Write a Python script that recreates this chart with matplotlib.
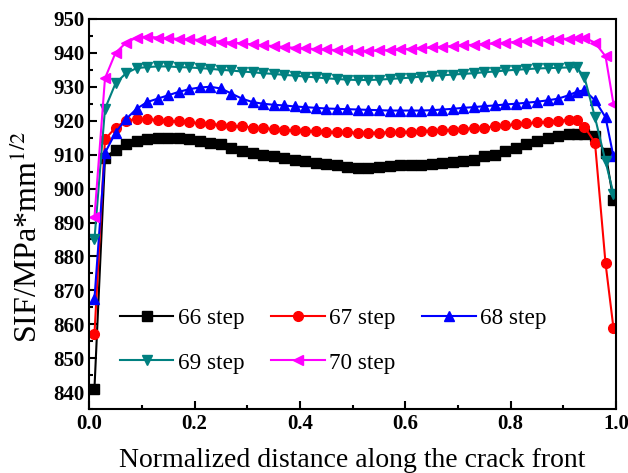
import matplotlib
matplotlib.use("Agg")
import matplotlib.pyplot as plt
from matplotlib.ticker import MultipleLocator

# normalized position along the crack front
x = [0.01, 0.03, 0.05, 0.07, 0.09, 0.11, 0.13, 0.15, 0.17, 0.19,
     0.21, 0.23, 0.25, 0.27, 0.29, 0.31, 0.33, 0.35, 0.37, 0.39,
     0.41, 0.43, 0.45, 0.47, 0.49, 0.51, 0.53, 0.55, 0.57, 0.59,
     0.61, 0.63, 0.65, 0.67, 0.69, 0.71, 0.73, 0.75, 0.77, 0.79,
     0.81, 0.83, 0.85, 0.87, 0.89, 0.91, 0.925, 0.94, 0.96, 0.98, 0.995]

step66 = [841, 909, 911.5, 913, 914, 914.5, 915, 915, 914.8, 914.5,
          914, 913.5, 913, 912, 911, 910.5, 910, 909.5, 909, 908.5,
          908, 907.5, 907.2, 907, 906.5, 906.2, 906.2, 906.5, 906.8, 907,
          907, 907, 907.2, 907.5, 907.8, 908, 908.5, 909.5, 910, 911,
          912, 913, 914, 915, 915.5, 916, 916.2, 916.2, 915.5, 910.5, 896.5]

step67 = [857, 914.5, 918, 920, 920.5, 920.5, 920.2, 920, 919.8, 919.5,
          919.3, 919, 918.8, 918.5, 918.3, 918, 917.8, 917.5, 917.3, 917.2,
          917, 917, 916.8, 916.7, 916.6, 916.5, 916.5, 916.5, 916.6, 916.7,
          916.8, 917, 917.1, 917.2, 917.4, 917.6, 917.8, 918, 918.3, 918.6,
          918.9, 919.2, 919.5, 919.7, 920, 920.2, 920.3, 918.2, 913.5, 878, 859]

step68 = [867.5, 910.5, 916.5, 920.5, 923.5, 925.5, 926.5, 927.5, 928.5, 929.3,
          929.8, 930, 929.5, 928, 926.5, 925.5, 925, 924.7, 924.5, 924.2,
          924, 923.8, 923.6, 923.5, 923.4, 923.3, 923.2, 923.1, 923, 923,
          923, 923, 923.1, 923.3, 923.5, 923.8, 924, 924.3, 924.5, 924.8,
          925, 925.3, 925.6, 926, 926.5, 927.5, 928.5, 929, 926, 921, 909.5]

step69 = [885, 923.5, 931, 934, 935.5, 935.8, 936, 936, 935.8, 935.7,
          935.5, 935.3, 935, 934.8, 934.5, 934.3, 934, 933.8, 933.5, 933.3,
          933, 932.8, 932.5, 932.3, 932.1, 932, 932, 932.1, 932.3, 932.5,
          932.7, 933, 933.2, 933.4, 933.6, 933.8, 934, 934.3, 934.5, 934.8,
          935, 935.2, 935.4, 935.5, 935.6, 935.7, 935.8, 932.8, 921, 908, 898.5]

step70 = [891.5, 932.5, 940, 943, 944.5, 944.8, 944.5, 944.3, 944.1, 944,
          943.8, 943.5, 943.3, 943, 942.8, 942.5, 942.2, 942, 941.7, 941.5,
          941.3, 941.1, 941, 940.8, 940.7, 940.6, 940.6, 940.7, 940.8, 941,
          941.2, 941.4, 941.6, 941.8, 942, 942.2, 942.4, 942.6, 942.8, 943,
          943.2, 943.4, 943.6, 943.8, 944, 944.2, 944.4, 944.5, 943, 939, 925]

series = [
    ("66 step", step66, "black", "s"),
    ("67 step", step67, "red", "o"),
    ("68 step", step68, "blue", "^"),
    ("69 step", step69, "#008080", "v"),
    ("70 step", step70, "magenta", "<"),
]

plt.rcParams["font.family"] = "Liberation Serif"
plt.rcParams["mathtext.fontset"] = "stix"

fig = plt.figure(figsize=(6.28, 4.73), dpi=100)
ax = fig.add_axes([0.142, 0.135, 0.839, 0.825])

lines = []
for label, y, color, marker in series:
    ln, = ax.plot(x, y, color=color, marker=marker, markersize=7, linewidth=1.5, label=label)
    lines.append(ln)

ax.set_xlim(0, 1.0)
ax.set_ylim(835, 950)
ax.xaxis.set_major_locator(MultipleLocator(0.2))
ax.xaxis.set_minor_locator(MultipleLocator(0.1))
ax.yaxis.set_major_locator(MultipleLocator(10))
ax.yaxis.set_minor_locator(MultipleLocator(5))
ax.tick_params(which="both", direction="in", top=False, right=False, width=1.5)
ax.tick_params(which="major", length=6, labelsize=15)
ax.tick_params(which="minor", length=3)
for lab in ax.get_xticklabels() + ax.get_yticklabels():
    lab.set_fontweight("bold")
for sp in ax.spines.values():
    sp.set_linewidth(1.5)

ax.set_xlabel("Normalized distance along the crack front", fontsize=20, labelpad=10)
ax.set_ylabel("SIF/MPa*mm$^{1/2}$", fontsize=23)
ax.yaxis.set_label_coords(-0.085, 0.44)

# row-wise legend order: 66 67 68 / 69 70
order = [0, 3, 1, 4, 2]
ax.legend([lines[i] for i in order], [series[i][0] for i in order],
          ncol=3, frameon=False, loc="upper left", bbox_to_anchor=(0.019, 0.313),
          fontsize=16.7, handlelength=2.3, handletextpad=0.2,
          columnspacing=1.15, labelspacing=1.0)

fig.savefig("out.png", dpi=100)
